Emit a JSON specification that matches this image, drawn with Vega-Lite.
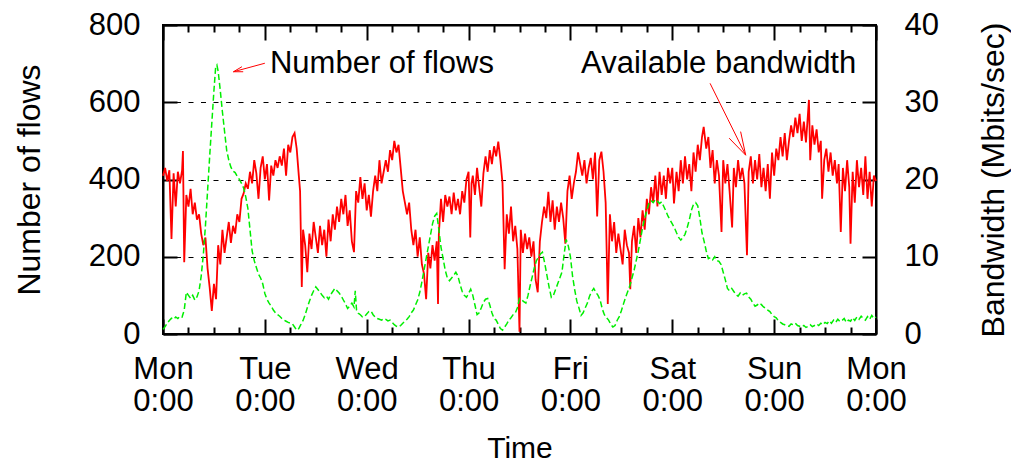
{
  "$schema": "https://vega.github.io/schema/vega-lite/v6.json",
  "width": 713,
  "height": 309,
  "autosize": {"type": "none"},
  "padding": {"left": 163, "top": 25, "right": 135, "bottom": 130},
  "background": "white",
  "config": {
    "view": {"stroke": "black", "strokeWidth": 2},
    "font": "Liberation Sans",
    "axis": {
      "domain": true, "ticks": true,
      "domainColor": "black", "domainWidth": 2,
      "tickColor": "black", "tickWidth": 2, "tickOpacity": 1,
      "labelColor": "black", "titleColor": "black",
      "labelFont": "Liberation Sans", "titleFont": "Liberation Sans",
      "labelFontSize": 31, "titleFontSize": 32, "titleFontWeight": "normal",
      "grid": false
    }
  },
  "datasets": {
    "bandwidth": [
      {"hour":0,"mbps":20.5},{"hour":0.5,"mbps":21.5},{"hour":1,"mbps":19.8},{"hour":1.5,"mbps":21.2},{"hour":2,"mbps":12.3},{"hour":2.5,"mbps":20.8},{"hour":3,"mbps":16.5},{"hour":3.5,"mbps":21},{"hour":4,"mbps":19.5},{"hour":4.5,"mbps":21.2},{"hour":4.7,"mbps":23.7},{"hour":5,"mbps":9.3},{"hour":5.5,"mbps":18},{"hour":6,"mbps":16.5},{"hour":6.5,"mbps":18.8},{"hour":7,"mbps":15.5},{"hour":7.5,"mbps":17},{"hour":8,"mbps":14.8},{"hour":8.5,"mbps":15.5},{"hour":9,"mbps":13},{"hour":9.5,"mbps":11.5},{"hour":10,"mbps":12.5},{"hour":10.5,"mbps":8.5},{"hour":11,"mbps":6},{"hour":11.5,"mbps":3},{"hour":12,"mbps":6.5},{"hour":12.5,"mbps":4.5},{"hour":13,"mbps":11.5},{"hour":13.5,"mbps":9},{"hour":14,"mbps":13.5},{"hour":14.5,"mbps":10.5},{"hour":15,"mbps":12.5},{"hour":15.5,"mbps":14.5},{"hour":16,"mbps":11.8},{"hour":16.5,"mbps":14},{"hour":17,"mbps":13},{"hour":17.5,"mbps":15.5},{"hour":18,"mbps":14.5},{"hour":18.5,"mbps":17.5},{"hour":19,"mbps":18.2},{"hour":19.5,"mbps":19.5},{"hour":20,"mbps":18.8},{"hour":20.5,"mbps":21},{"hour":21,"mbps":19.5},{"hour":21.5,"mbps":22.5},{"hour":22,"mbps":20.8},{"hour":22.5,"mbps":17.5},{"hour":23,"mbps":21.5},{"hour":23.5,"mbps":23},
      {"hour":24,"mbps":20},{"hour":24.5,"mbps":22},{"hour":25,"mbps":17.3},{"hour":25.5,"mbps":21.8},{"hour":26,"mbps":20.5},{"hour":26.5,"mbps":22.5},{"hour":27,"mbps":21.5},{"hour":27.5,"mbps":23},{"hour":28,"mbps":21.8},{"hour":28.5,"mbps":24},{"hour":29,"mbps":20.5},{"hour":29.5,"mbps":24.5},{"hour":30,"mbps":23.5},{"hour":30.5,"mbps":25.5},{"hour":31,"mbps":26},{"hour":31.5,"mbps":24},{"hour":32,"mbps":20.5},{"hour":32.3,"mbps":18.5},{"hour":32.7,"mbps":6.1},{"hour":33,"mbps":13.5},{"hour":33.5,"mbps":11.5},{"hour":34,"mbps":8},{"hour":34.5,"mbps":13},{"hour":35,"mbps":11},{"hour":35.5,"mbps":14.5},{"hour":36,"mbps":12.5},{"hour":36.5,"mbps":10.5},{"hour":37,"mbps":14},{"hour":37.5,"mbps":11.5},{"hour":38,"mbps":13.5},{"hour":38.5,"mbps":10},{"hour":39,"mbps":14.8},{"hour":39.5,"mbps":12},{"hour":40,"mbps":15.5},{"hour":40.5,"mbps":13.5},{"hour":41,"mbps":16.5},{"hour":41.5,"mbps":14.5},{"hour":42,"mbps":17.5},{"hour":42.5,"mbps":15.5},{"hour":43,"mbps":18},{"hour":43.5,"mbps":14},{"hour":44,"mbps":16},{"hour":44.5,"mbps":12},{"hour":45,"mbps":10.6},{"hour":45.5,"mbps":18.5},{"hour":46,"mbps":17},{"hour":46.5,"mbps":20.3},{"hour":47,"mbps":17.5},{"hour":47.5,"mbps":19.5},
      {"hour":48,"mbps":16},{"hour":48.5,"mbps":18},{"hour":49,"mbps":15.2},{"hour":49.5,"mbps":18.5},{"hour":50,"mbps":20.5},{"hour":50.5,"mbps":18.5},{"hour":51,"mbps":22.5},{"hour":51.5,"mbps":19.5},{"hour":52,"mbps":21},{"hour":52.5,"mbps":22.5},{"hour":53,"mbps":21},{"hour":53.5,"mbps":23.8},{"hour":54,"mbps":22.5},{"hour":54.5,"mbps":25},{"hour":55,"mbps":23.5},{"hour":55.5,"mbps":24.5},{"hour":56,"mbps":21.5},{"hour":56.5,"mbps":18.5},{"hour":57,"mbps":17},{"hour":57.5,"mbps":15.5},{"hour":58,"mbps":17},{"hour":58.5,"mbps":13.5},{"hour":59,"mbps":11.5},{"hour":59.5,"mbps":13.5},{"hour":60,"mbps":10},{"hour":60.5,"mbps":12.5},{"hour":61,"mbps":9},{"hour":61.5,"mbps":7.8},{"hour":62,"mbps":4.5},{"hour":62.5,"mbps":10.5},{"hour":63,"mbps":8.5},{"hour":63.5,"mbps":11.5},{"hour":64,"mbps":9.5},{"hour":64.5,"mbps":12},{"hour":64.8,"mbps":3.9},{"hour":65,"mbps":13},{"hour":65.5,"mbps":17.5},{"hour":66,"mbps":14.5},{"hour":66.5,"mbps":18},{"hour":67,"mbps":16.5},{"hour":67.5,"mbps":17.8},{"hour":68,"mbps":15.5},{"hour":68.5,"mbps":18.3},{"hour":69,"mbps":16},{"hour":69.5,"mbps":17.5},{"hour":70,"mbps":15.5},{"hour":70.5,"mbps":18.5},{"hour":71,"mbps":17},{"hour":71.5,"mbps":20},
      {"hour":72,"mbps":21},{"hour":72.4,"mbps":12.5},{"hour":72.7,"mbps":19.5},{"hour":73,"mbps":20.5},{"hour":73.5,"mbps":18},{"hour":74,"mbps":21.5},{"hour":74.5,"mbps":19},{"hour":75,"mbps":16.5},{"hour":75.5,"mbps":20.8},{"hour":76,"mbps":23},{"hour":76.5,"mbps":21},{"hour":77,"mbps":23.8},{"hour":77.5,"mbps":22},{"hour":78,"mbps":24.3},{"hour":78.5,"mbps":23},{"hour":79,"mbps":24.9},{"hour":79.5,"mbps":22.5},{"hour":80,"mbps":19.5},{"hour":80.5,"mbps":8.4},{"hour":81,"mbps":15.5},{"hour":81.5,"mbps":13},{"hour":82,"mbps":16.5},{"hour":82.5,"mbps":12},{"hour":83,"mbps":14},{"hour":83.5,"mbps":11},{"hour":84,"mbps":0.3},{"hour":84.3,"mbps":13.5},{"hour":84.8,"mbps":10.5},{"hour":85.3,"mbps":13},{"hour":85.8,"mbps":11},{"hour":86.3,"mbps":12.5},{"hour":86.8,"mbps":10},{"hour":87.3,"mbps":12},{"hour":87.8,"mbps":7},{"hour":88.3,"mbps":5.4},{"hour":88.8,"mbps":12},{"hour":89.3,"mbps":14.5},{"hour":89.8,"mbps":16.5},{"hour":90.3,"mbps":15},{"hour":90.8,"mbps":18.4},{"hour":91.3,"mbps":14.5},{"hour":91.8,"mbps":17.3},{"hour":92.3,"mbps":13.5},{"hour":92.8,"mbps":16.5},{"hour":93.3,"mbps":14.5},{"hour":93.8,"mbps":17},{"hour":94.3,"mbps":15},{"hour":94.8,"mbps":11.7},{"hour":95.3,"mbps":18.5},{"hour":95.8,"mbps":20.5},
      {"hour":96.3,"mbps":17.5},{"hour":96.8,"mbps":19.5},{"hour":97.3,"mbps":21},{"hour":97.8,"mbps":23.5},{"hour":98.3,"mbps":22},{"hour":98.8,"mbps":20.5},{"hour":99.3,"mbps":22.5},{"hour":99.8,"mbps":19.5},{"hour":100.3,"mbps":21.5},{"hour":100.8,"mbps":22.8},{"hour":101.3,"mbps":20},{"hour":101.8,"mbps":23.5},{"hour":102.3,"mbps":15.2},{"hour":102.8,"mbps":22.5},{"hour":103.3,"mbps":23.6},{"hour":103.8,"mbps":21},{"hour":104.3,"mbps":17},{"hour":104.8,"mbps":3.9},{"hour":105.3,"mbps":15.5},{"hour":105.8,"mbps":12},{"hour":106.3,"mbps":14.5},{"hour":106.8,"mbps":10.5},{"hour":107.3,"mbps":13},{"hour":107.8,"mbps":11},{"hour":108.3,"mbps":9},{"hour":108.8,"mbps":13.5},{"hour":109.3,"mbps":11.5},{"hour":109.8,"mbps":10.5},{"hour":110.1,"mbps":5.8},{"hour":110.5,"mbps":12},{"hour":111,"mbps":14},{"hour":111.5,"mbps":10.5},{"hour":112,"mbps":15},{"hour":112.5,"mbps":12.5},{"hour":113,"mbps":16},{"hour":113.5,"mbps":13.5},{"hour":114,"mbps":17.5},{"hour":114.5,"mbps":15.5},{"hour":115,"mbps":19},{"hour":115.5,"mbps":17},{"hour":116,"mbps":20.5},{"hour":116.5,"mbps":16.5},{"hour":117,"mbps":21},{"hour":117.5,"mbps":18},{"hour":118,"mbps":20.5},{"hour":118.5,"mbps":17.5},{"hour":119,"mbps":21.5},{"hour":119.5,"mbps":19.5},
      {"hour":120,"mbps":21.5},{"hour":120.4,"mbps":16.9},{"hour":121,"mbps":21},{"hour":121.5,"mbps":18.5},{"hour":122,"mbps":22.5},{"hour":122.5,"mbps":19.5},{"hour":123,"mbps":23},{"hour":123.5,"mbps":20},{"hour":124,"mbps":22},{"hour":124.5,"mbps":18.5},{"hour":125,"mbps":23.5},{"hour":125.5,"mbps":21},{"hour":126,"mbps":24.5},{"hour":126.5,"mbps":22.5},{"hour":127,"mbps":25.5},{"hour":127.4,"mbps":26.8},{"hour":128,"mbps":24},{"hour":128.5,"mbps":25.5},{"hour":129,"mbps":21.5},{"hour":129.5,"mbps":23.8},{"hour":130,"mbps":19.5},{"hour":130.5,"mbps":22.5},{"hour":131,"mbps":20.5},{"hour":131.6,"mbps":13.2},{"hour":132,"mbps":22.5},{"hour":132.5,"mbps":19.5},{"hour":133,"mbps":22},{"hour":133.5,"mbps":18.5},{"hour":134.1,"mbps":13.8},{"hour":134.5,"mbps":21.5},{"hour":135,"mbps":19},{"hour":135.5,"mbps":22.5},{"hour":136,"mbps":20},{"hour":136.5,"mbps":21.5},{"hour":137,"mbps":19.5},{"hour":137.6,"mbps":10.2},{"hour":138,"mbps":21},{"hour":138.5,"mbps":23},{"hour":139,"mbps":19.5},{"hour":139.5,"mbps":22.5},{"hour":140,"mbps":20},{"hour":140.5,"mbps":23.3},{"hour":141,"mbps":19},{"hour":141.5,"mbps":21.5},{"hour":142,"mbps":18.5},{"hour":142.5,"mbps":22},{"hour":143,"mbps":17.5},{"hour":143.5,"mbps":23.5},
      {"hour":144,"mbps":20.5},{"hour":144.5,"mbps":24},{"hour":145,"mbps":22.5},{"hour":145.5,"mbps":25.5},{"hour":146,"mbps":23},{"hour":146.5,"mbps":26},{"hour":147,"mbps":22.5},{"hour":147.5,"mbps":25},{"hour":148,"mbps":27},{"hour":148.5,"mbps":25.5},{"hour":149,"mbps":28},{"hour":149.5,"mbps":26},{"hour":150,"mbps":28.5},{"hour":150.5,"mbps":25},{"hour":151,"mbps":27.5},{"hour":151.5,"mbps":24.8},{"hour":152.2,"mbps":30.3},{"hour":152.5,"mbps":22.5},{"hour":153,"mbps":27},{"hour":153.5,"mbps":24.5},{"hour":154,"mbps":26.5},{"hour":154.5,"mbps":23.5},{"hour":155,"mbps":25},{"hour":155.3,"mbps":17.5},{"hour":155.8,"mbps":22.5},{"hour":156.3,"mbps":24},{"hour":156.8,"mbps":21},{"hour":157.3,"mbps":23.5},{"hour":157.8,"mbps":20.5},{"hour":158.3,"mbps":22.5},{"hour":158.8,"mbps":19.5},{"hour":159.2,"mbps":22},{"hour":159.7,"mbps":13.2},{"hour":160.2,"mbps":21.5},{"hour":160.7,"mbps":18.5},{"hour":161.2,"mbps":22.5},{"hour":161.7,"mbps":19},{"hour":162,"mbps":11.7},{"hour":162.5,"mbps":21},{"hour":163,"mbps":17},{"hour":163.5,"mbps":22.5},{"hour":164,"mbps":19},{"hour":164.5,"mbps":21.5},{"hour":165,"mbps":18},{"hour":165.5,"mbps":23},{"hour":166,"mbps":17.5},{"hour":166.5,"mbps":21},{"hour":167,"mbps":16.5},{"hour":167.5,"mbps":20.5},{"hour":168,"mbps":19.8}
    ],
    "flowcount": [
      {"hour":0,"flows":12},{"hour":0.5,"flows":19},{"hour":1,"flows":28},{"hour":1.5,"flows":35},{"hour":2,"flows":41},{"hour":2.5,"flows":38},{"hour":3,"flows":44},{"hour":3.5,"flows":40},{"hour":4,"flows":46},{"hour":4.5,"flows":44},{"hour":5,"flows":62},{"hour":5.5,"flows":108},{"hour":6,"flows":100},{"hour":6.5,"flows":92},{"hour":7,"flows":100},{"hour":7.5,"flows":88},{"hour":8,"flows":96},{"hour":8.5,"flows":112},{"hour":9,"flows":150},{"hour":9.5,"flows":205},{"hour":10,"flows":280},{"hour":10.5,"flows":370},{"hour":11,"flows":460},{"hour":11.5,"flows":546},{"hour":12,"flows":630},{"hour":12.4,"flows":690},{"hour":12.7,"flows":696},{"hour":13,"flows":680},{"hour":13.5,"flows":630},{"hour":14,"flows":575},{"hour":14.5,"flows":525},{"hour":15,"flows":476},{"hour":15.5,"flows":450},{"hour":16,"flows":432},{"hour":16.5,"flows":422},{"hour":17,"flows":418},{"hour":17.5,"flows":408},{"hour":18,"flows":400},{"hour":18.5,"flows":390},{"hour":19,"flows":378},{"hour":19.5,"flows":355},{"hour":20,"flows":325},{"hour":20.5,"flows":270},{"hour":21,"flows":215},{"hour":21.5,"flows":190},{"hour":22,"flows":172},{"hour":22.5,"flows":155},{"hour":23,"flows":145},{"hour":23.5,"flows":130},
      {"hour":24,"flows":105},{"hour":24.5,"flows":90},{"hour":25,"flows":80},{"hour":25.5,"flows":72},{"hour":26,"flows":62},{"hour":26.5,"flows":55},{"hour":27,"flows":50},{"hour":27.5,"flows":46},{"hour":28,"flows":40},{"hour":28.5,"flows":36},{"hour":29,"flows":33},{"hour":29.5,"flows":30},{"hour":30,"flows":28},{"hour":30.5,"flows":26},{"hour":31,"flows":18},{"hour":31.5,"flows":10},{"hour":32,"flows":14},{"hour":32.5,"flows":25},{"hour":33,"flows":35},{"hour":33.5,"flows":50},{"hour":34,"flows":68},{"hour":34.5,"flows":85},{"hour":35,"flows":100},{"hour":35.5,"flows":112},{"hour":36,"flows":122},{"hour":36.5,"flows":115},{"hour":37,"flows":108},{"hour":37.5,"flows":100},{"hour":38,"flows":94},{"hour":38.5,"flows":98},{"hour":39,"flows":90},{"hour":39.5,"flows":102},{"hour":40,"flows":110},{"hour":40.5,"flows":118},{"hour":41,"flows":112},{"hour":41.5,"flows":106},{"hour":42,"flows":98},{"hour":42.5,"flows":88},{"hour":43,"flows":78},{"hour":43.5,"flows":66},{"hour":44,"flows":72},{"hour":44.5,"flows":80},{"hour":45,"flows":70},{"hour":45.3,"flows":112},{"hour":45.6,"flows":62},{"hour":46,"flows":54},{"hour":46.5,"flows":50},{"hour":47,"flows":44},{"hour":47.5,"flows":45},
      {"hour":48,"flows":52},{"hour":48.5,"flows":58},{"hour":49,"flows":60},{"hour":49.5,"flows":50},{"hour":50,"flows":44},{"hour":50.5,"flows":40},{"hour":51,"flows":38},{"hour":51.5,"flows":36},{"hour":52,"flows":40},{"hour":52.5,"flows":38},{"hour":53,"flows":34},{"hour":53.5,"flows":36},{"hour":54,"flows":30},{"hour":54.5,"flows":24},{"hour":55,"flows":20},{"hour":55.5,"flows":18},{"hour":56,"flows":22},{"hour":56.5,"flows":28},{"hour":57,"flows":33},{"hour":57.5,"flows":38},{"hour":58,"flows":45},{"hour":58.5,"flows":55},{"hour":59,"flows":62},{"hour":59.5,"flows":75},{"hour":60,"flows":88},{"hour":60.5,"flows":108},{"hour":61,"flows":135},{"hour":61.5,"flows":165},{"hour":62,"flows":195},{"hour":62.5,"flows":225},{"hour":63,"flows":255},{"hour":63.5,"flows":285},{"hour":64,"flows":305},{"hour":64.5,"flows":312},{"hour":65,"flows":270},{"hour":65.5,"flows":225},{"hour":66,"flows":195},{"hour":66.5,"flows":165},{"hour":67,"flows":145},{"hour":67.5,"flows":138},{"hour":68,"flows":145},{"hour":68.5,"flows":152},{"hour":69,"flows":160},{"hour":69.5,"flows":150},{"hour":70,"flows":128},{"hour":70.5,"flows":110},{"hour":71,"flows":100},{"hour":71.5,"flows":95},
      {"hour":72,"flows":105},{"hour":72.5,"flows":116},{"hour":73,"flows":100},{"hour":73.5,"flows":75},{"hour":74,"flows":50},{"hour":74.5,"flows":55},{"hour":75,"flows":68},{"hour":75.5,"flows":82},{"hour":76,"flows":90},{"hour":76.5,"flows":92},{"hour":77,"flows":75},{"hour":77.5,"flows":55},{"hour":78,"flows":40},{"hour":78.5,"flows":36},{"hour":79,"flows":25},{"hour":79.5,"flows":14},{"hour":80,"flows":10},{"hour":80.5,"flows":18},{"hour":81,"flows":26},{"hour":81.5,"flows":36},{"hour":82,"flows":42},{"hour":82.5,"flows":50},{"hour":83,"flows":54},{"hour":83.5,"flows":68},{"hour":84,"flows":92},{"hour":84.5,"flows":88},{"hour":85,"flows":84},{"hour":85.5,"flows":80},{"hour":86,"flows":100},{"hour":86.5,"flows":125},{"hour":87,"flows":148},{"hour":87.5,"flows":172},{"hour":88,"flows":190},{"hour":88.5,"flows":200},{"hour":89,"flows":208},{"hour":89.4,"flows":212},{"hour":90,"flows":180},{"hour":90.5,"flows":150},{"hour":91,"flows":120},{"hour":91.5,"flows":95},{"hour":92,"flows":100},{"hour":92.5,"flows":115},{"hour":93,"flows":130},{"hour":93.5,"flows":145},{"hour":94,"flows":160},{"hour":94.5,"flows":205},{"hour":95,"flows":245},{"hour":95.5,"flows":228},
      {"hour":96,"flows":200},{"hour":96.5,"flows":150},{"hour":97,"flows":115},{"hour":97.5,"flows":85},{"hour":98,"flows":68},{"hour":98.5,"flows":48},{"hour":99,"flows":55},{"hour":99.5,"flows":68},{"hour":100,"flows":80},{"hour":100.5,"flows":98},{"hour":101,"flows":110},{"hour":101.5,"flows":118},{"hour":102,"flows":108},{"hour":102.5,"flows":100},{"hour":103,"flows":88},{"hour":103.5,"flows":65},{"hour":104,"flows":50},{"hour":104.5,"flows":42},{"hour":105,"flows":36},{"hour":105.5,"flows":25},{"hour":106,"flows":18},{"hour":106.5,"flows":22},{"hour":107,"flows":35},{"hour":107.5,"flows":45},{"hour":108,"flows":60},{"hour":108.5,"flows":78},{"hour":109,"flows":95},{"hour":109.5,"flows":110},{"hour":110,"flows":125},{"hour":110.5,"flows":145},{"hour":111,"flows":165},{"hour":111.5,"flows":190},{"hour":112,"flows":215},{"hour":112.5,"flows":245},{"hour":113,"flows":275},{"hour":113.5,"flows":300},{"hour":114,"flows":320},{"hour":114.5,"flows":338},{"hour":115,"flows":345},{"hour":115.5,"flows":340},{"hour":116,"flows":348},{"hour":116.5,"flows":344},{"hour":117,"flows":338},{"hour":117.5,"flows":342},{"hour":118,"flows":330},{"hour":118.5,"flows":318},{"hour":119,"flows":305},{"hour":119.5,"flows":295},
      {"hour":120,"flows":285},{"hour":120.5,"flows":275},{"hour":121,"flows":262},{"hour":121.5,"flows":250},{"hour":122,"flows":243},{"hour":122.5,"flows":250},{"hour":123,"flows":258},{"hour":123.5,"flows":275},{"hour":124,"flows":295},{"hour":124.5,"flows":320},{"hour":125,"flows":336},{"hour":125.5,"flows":340},{"hour":126,"flows":332},{"hour":126.5,"flows":300},{"hour":127,"flows":262},{"hour":127.5,"flows":240},{"hour":128,"flows":215},{"hour":128.5,"flows":195},{"hour":129,"flows":198},{"hour":129.5,"flows":192},{"hour":130,"flows":200},{"hour":130.5,"flows":190},{"hour":131,"flows":188},{"hour":131.5,"flows":180},{"hour":132,"flows":160},{"hour":132.5,"flows":140},{"hour":133,"flows":118},{"hour":133.5,"flows":112},{"hour":134,"flows":118},{"hour":134.5,"flows":110},{"hour":135,"flows":102},{"hour":135.5,"flows":98},{"hour":136,"flows":106},{"hour":136.5,"flows":100},{"hour":137,"flows":104},{"hour":137.5,"flows":106},{"hour":138,"flows":96},{"hour":138.5,"flows":90},{"hour":139,"flows":80},{"hour":139.5,"flows":72},{"hour":140,"flows":75},{"hour":140.5,"flows":80},{"hour":141,"flows":76},{"hour":141.5,"flows":70},{"hour":142,"flows":66},{"hour":142.5,"flows":62},{"hour":143,"flows":58},{"hour":143.5,"flows":50},
      {"hour":144,"flows":45},{"hour":144.5,"flows":42},{"hour":145,"flows":34},{"hour":145.5,"flows":30},{"hour":146,"flows":26},{"hour":146.5,"flows":24},{"hour":147,"flows":22},{"hour":147.5,"flows":20},{"hour":148,"flows":26},{"hour":148.5,"flows":24},{"hour":149,"flows":28},{"hour":149.5,"flows":22},{"hour":150,"flows":20},{"hour":150.5,"flows":18},{"hour":151,"flows":22},{"hour":151.5,"flows":17},{"hour":152,"flows":20},{"hour":152.5,"flows":24},{"hour":153,"flows":19},{"hour":153.5,"flows":22},{"hour":154,"flows":26},{"hour":154.5,"flows":22},{"hour":155,"flows":28},{"hour":155.5,"flows":24},{"hour":156,"flows":30},{"hour":156.5,"flows":27},{"hour":157,"flows":34},{"hour":157.5,"flows":28},{"hour":158,"flows":36},{"hour":158.5,"flows":30},{"hour":159,"flows":38},{"hour":159.5,"flows":32},{"hour":160,"flows":35},{"hour":160.5,"flows":40},{"hour":161,"flows":30},{"hour":161.5,"flows":36},{"hour":162,"flows":33},{"hour":162.5,"flows":42},{"hour":163,"flows":35},{"hour":163.5,"flows":44},{"hour":164,"flows":38},{"hour":164.5,"flows":46},{"hour":165,"flows":40},{"hour":165.5,"flows":36},{"hour":166,"flows":45},{"hour":166.5,"flows":38},{"hour":167,"flows":48},{"hour":167.5,"flows":40},{"hour":168,"flows":44}
    ],
    "labels": [
      {"hour":25.2,"flows":675,"text":"Number of flows"},
      {"hour":98.5,"flows":675,"text":"Available bandwidth"}
    ],
    "arrows": [
      {"part":"a1 shaft","ord":0,"hour":24.0,"flows":701},
      {"part":"a1 shaft","ord":1,"hour":16.6,"flows":679},
      {"part":"a1 head","ord":0,"hour":18.9,"flows":679},
      {"part":"a1 head","ord":1,"hour":16.6,"flows":679},
      {"part":"a1 head","ord":2,"hour":18.6,"flows":692},
      {"part":"a2 shaft","ord":0,"hour":128.9,"flows":649},
      {"part":"a2 shaft","ord":1,"hour":137.3,"flows":463},
      {"part":"a2 head","ord":0,"hour":133.4,"flows":507},
      {"part":"a2 head","ord":1,"hour":137.3,"flows":463},
      {"part":"a2 head","ord":2,"hour":136.1,"flows":524}
    ]
  },
  "layer": [
    {
      "data": {"name": "bandwidth"},
      "mark": {"type": "line", "color": "#ff0000", "strokeWidth": 1.8},
      "encoding": {
        "x": {
          "field": "hour", "type": "quantitative",
          "scale": {"domain": [0, 168], "nice": false, "zero": false},
          "axis": {
            "orient": "top", "title": null, "labels": false, "domain": true, "ticks": true,
            "values": [0,6,12,18,24,30,36,42,48,54,60,66,72,78,84,90,96,102,108,114,120,126,132,138,144,150,156,162,168],
            "tickSize": {"condition": {"test": "datum.value % 24 === 0", "value": -15}, "value": -7}
          }
        },
        "y": {
          "field": "mbps", "type": "quantitative",
          "scale": {"domain": [0, 40], "nice": false},
          "axis": {
            "orient": "right", "values": [0, 10, 20, 30, 40], "domain": true, "ticks": true,
            "tickSize": -14, "labelPadding": 42,
            "title": "Bandwidth (Mbits/sec)", "titleAngle": 270,
            "titleX": 117, "titleY": 154.5, "titleBaseline": "middle", "titleAlign": "center"
          }
        }
      }
    },
    {
      "encoding": {
        "x": {
          "field": "hour", "type": "quantitative",
          "scale": {"domain": [0, 168], "nice": false, "zero": false},
          "axis": {
            "orient": "bottom", "title": "Time", "domain": true, "ticks": true,
            "values": [0,6,12,18,24,30,36,42,48,54,60,66,72,78,84,90,96,102,108,114,120,126,132,138,144,150,156,162,168],
            "tickSize": {"condition": {"test": "datum.value % 24 === 0", "value": -15}, "value": -7},
            "labelExpr": "datum.value % 24 === 0 ? [['Mon','Tue','Wed','Thu','Fri','Sat','Sun','Mon'][datum.value / 24], '0:00'] : ''",
            "labelPadding": 35.5, "labelLineHeight": 32, "labelBaseline": "top",
            "labelFlush": false, "labelOverlap": false, "labelBound": false,
            "titleFontSize": 30, "titleY": 123, "titleBaseline": "alphabetic"
          }
        },
        "y": {
          "field": "flows", "type": "quantitative",
          "scale": {"domain": [0, 800], "nice": false},
          "axis": {
            "orient": "left", "values": [0, 200, 400, 600, 800], "domain": true, "ticks": true,
            "tickSize": -14, "labelPadding": 37,
            "grid": true, "gridDash": [5, 7.5], "gridColor": "black", "gridWidth": 1, "gridOpacity": 1,
            "title": "Number of flows", "titleAngle": 270,
            "titleX": -134, "titleY": 154.5, "titleBaseline": "middle", "titleAlign": "center"
          }
        }
      },
      "layer": [
        {
          "data": {"name": "flowcount"},
          "mark": {"type": "line", "color": "#00ee00", "strokeWidth": 1.5, "strokeDash": [6, 3]}
        },
        {
          "data": {"name": "arrows"},
          "mark": {"type": "line", "color": "#ff0000", "strokeWidth": 1},
          "encoding": {
            "detail": {"field": "part"},
            "order": {"field": "ord", "type": "quantitative"}
          }
        },
        {
          "data": {"name": "labels"},
          "mark": {"type": "text", "align": "left", "baseline": "alphabetic", "fontSize": 31, "font": "Liberation Sans", "color": "black"},
          "encoding": {"text": {"field": "text"}}
        }
      ]
    }
  ],
  "resolve": {
    "scale": {"y": "independent"},
    "axis": {"x": "independent", "y": "independent"}
  }
}
